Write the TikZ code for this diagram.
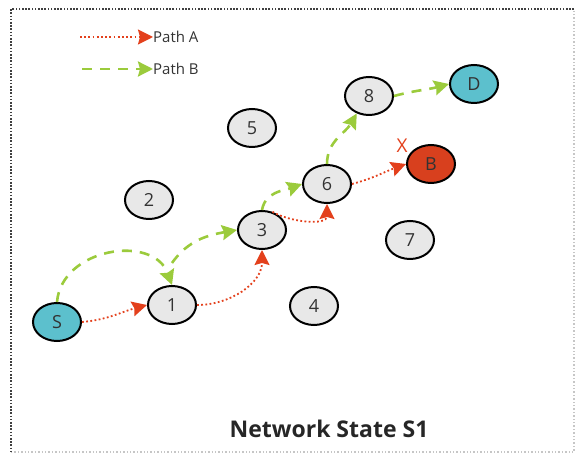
\documentclass[tikz,border=0pt]{standalone}
\usepackage{fontspec}
\setmainfont{Open Sans}
\usetikzlibrary{arrows.meta,shapes.geometric}
\definecolor{nodegray}{HTML}{E8E8E8}
\definecolor{endcyan}{HTML}{5CC0CD}
\definecolor{blockred}{HTML}{D8401E}
\definecolor{routered}{HTML}{E3401C}
\definecolor{routegreen}{HTML}{9BCB3C}
\tikzset{
  hop/.style={ellipse, draw=black, line width=2pt, fill=nodegray,
    minimum width=48pt, minimum height=38pt, inner sep=0pt,
    font=\fontsize{18}{21}\selectfont, text=black!80},
  pathA/.style={draw=routered, line width=1.8pt, dash pattern=on 1.8pt off 2.4pt,
    -{Stealth[length=15pt,width=15pt,inset=2pt,fill=routered]}},
  pathB/.style={draw=routegreen, line width=2.6pt, dash pattern=on 10pt off 8pt,
    -{Stealth[length=15pt,width=15pt,inset=2pt,fill=routegreen]}},
  legendtext/.style={anchor=west, inner sep=0pt, font=\fontsize{15}{17}\selectfont, text=black!80}
}

\begin{document}
\begin{tikzpicture}[x=1pt,y=1pt]
		%%%%% FRAME %%%%%
		\useasboundingbox (0,0) rectangle (576,455);
		\draw[gray!45, line width=1.4pt, dash pattern=on 1.4pt off 2pt] (11,3) -- (574,3) -- (574,446);
		\draw[black!75, line width=1.8pt, dash pattern=on 1.6pt off 1.6pt] (574,446) -- (11,446) -- (11,3);
		
		%%%%% LEGEND %%%%%
		\coordinate (legA) at (80,418);
		\node[legendtext] (txtA) at (153,418) {Path A};
		\draw[pathA] (legA) -- (txtA.west);
		\coordinate (legB) at (82,386);
		\node[legendtext] (txtB) at (153,386) {Path B};
		\draw[pathB] (legB) -- (txtB.west);
		
		%%%%% NODES %%%%%
		\node[hop, fill=endcyan] (S) at (57,133) {S};
		\node[hop] (n1) at (172,150) {1};
		\node[hop] (n2) at (149,255) {2};
		\node[hop] (n3) at (262,225) {3};
		\node[hop] (n4) at (314,149) {4};
		\node[hop] (n5) at (252,327) {5};
		\node[hop] (n6) at (327,271) {6};
		\node[hop] (n7) at (410,215) {7};
		\node[hop] (n8) at (369,359) {8};
		\node[hop, fill=endcyan] (D) at (474,371) {D};
		\node[hop, fill=blockred] (B) at (431,291) {B};
		\node[text=routered, font=\fontsize{19}{22}\selectfont] (cross) at (402,309) {X};
		
		%%%%% PATH A %%%%%
		\draw[pathA] (S.east) to[out=5, in=195] (n1.west);
		\draw[pathA] (n1.east) to[out=0, in=-90] (n3.south);
		\draw[pathA] (n3.60) to[out=-30, in=-90] (n6.south);
		\draw[pathA] (n6.east) to[out=15, in=200] (B.west);
		
		%%%%% PATH B %%%%%
		\coordinate (j1) at ([yshift=22pt]n1.north);
		\draw[pathB] (S.north) to[out=85, in=110, looseness=1.2] (n1.north);
		\draw[pathB] (j1) to[out=55, in=190] (n3.west);
		\draw[pathB] (n3.north) to[out=80, in=200] (n6.west);
		\draw[pathB] (n6.north) to[out=90, in=240] (n8.235);
		\draw[pathB] (n8.east) to[out=15, in=195] (D.west);
		
		%%%%% TITLE %%%%%
		\node[font=\fontsize{23}{27}\selectfont\bfseries, text=black!85] (title) at (329,26) {Network State S1};
	\end{tikzpicture}
\end{document}
